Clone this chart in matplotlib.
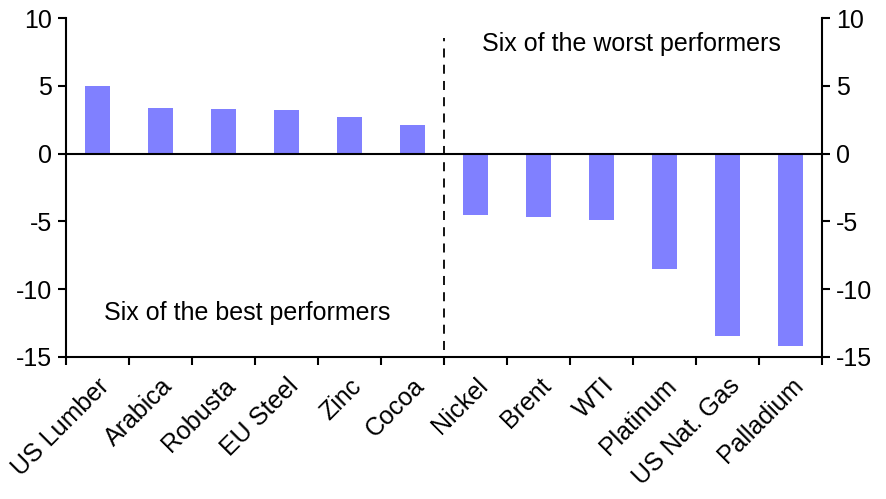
import matplotlib
matplotlib.use("Agg")
import matplotlib.pyplot as plt
import numpy as np

categories = ["US Lumber", "Arabica", "Robusta", "EU Steel", "Zinc", "Cocoa",
              "Nickel", "Brent", "WTI", "Platinum", "US Nat. Gas", "Palladium"]
values = [5.0, 3.35, 3.28, 3.2, 2.69, 2.09,
          -4.56, -4.68, -4.9, -8.5, -13.43, -14.17]
yticks = [-15, -10, -5, 0, 5, 10]

plt.rcParams['font.family'] = ['Liberation Sans', 'DejaVu Sans']
FS = 18

fig = plt.figure(figsize=(8.86, 4.99), dpi=100)
ax = fig.add_axes([66/886, 1-357/499, (822-66)/886, (357-18)/499])

x = np.arange(len(categories))
ax.bar(x, values, width=0.4, color='#8080ff', zorder=2)
ax.axhline(0, color='black', lw=1.5, zorder=3)
ax.axvline(5.5, ymin=(-14.5+15)/25, ymax=(8.5+15)/25, color='black', lw=1.3, ls=(0, (5, 4)), zorder=3)

ax.set_xlim(-0.5, len(categories)-0.5)
ax.set_ylim(-15, 10)
ax.set_yticks(yticks)
ax.set_yticklabels([str(v) for v in yticks])

ax.set_xticks(x)
ax.set_xticklabels(categories, rotation=45, ha='right', rotation_mode='anchor')
ax.set_xticks(np.arange(-0.5, len(categories)), minor=True)
ax.tick_params(axis='x', which='major', length=0, labelsize=FS, pad=12)
ax.tick_params(axis='x', which='minor', length=6, width=1.5, direction='out')
ax.tick_params(axis='y', which='major', length=6, width=1.5, direction='out', pad=4,
               labelsize=FS, left=True, right=True, labelleft=True, labelright=True)

ax.spines['top'].set_visible(False)
for side in ['left', 'right', 'bottom']:
    ax.spines[side].set_linewidth(1.5)

ax.text(6.1, 8.1, "Six of the worst performers", fontsize=FS, va='center', ha='left')
ax.text(0.1, -11.75, "Six of the best performers", fontsize=FS, va='center', ha='left')

fig.savefig("out.png", dpi=100)
